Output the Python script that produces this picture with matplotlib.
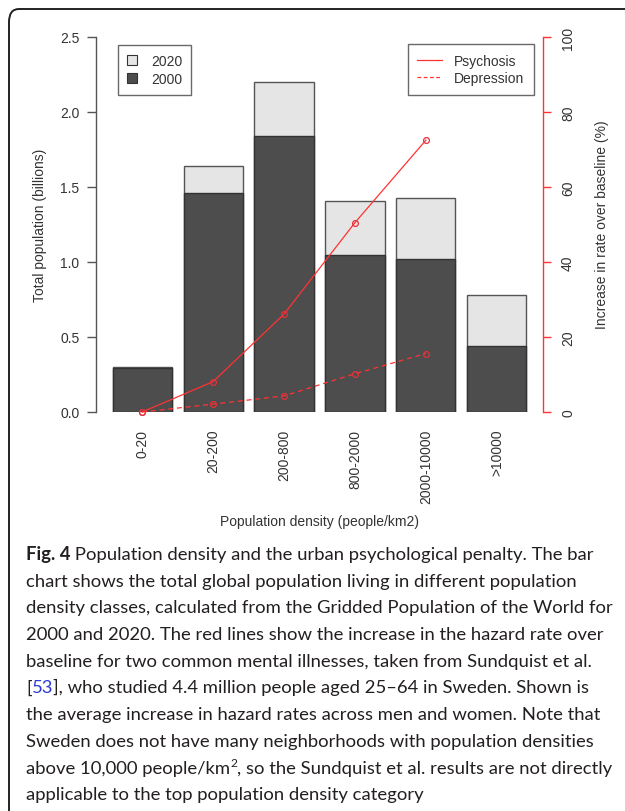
import matplotlib
matplotlib.use("Agg")
import matplotlib.pyplot as plt
from matplotlib.patches import FancyBboxPatch, Patch
from matplotlib.lines import Line2D
import numpy as np

categories = ["0-20", "20-200", "200-800", "800-2000", "2000-10000", ">10000"]
pop_2020 = [0.30, 1.64, 2.20, 1.41, 1.43, 0.78]
pop_2000 = [0.295, 1.46, 1.84, 1.05, 1.02, 0.44]
psychosis = [0.0, 8.1, 26.1, 50.5, 72.5]
depression = [0.0, 2.1, 4.3, 10.2, 15.6]
left_ticks = [0.0, 0.5, 1.0, 1.5, 2.0, 2.5]
right_ticks = [0, 20, 40, 60, 80, 100]

W, H = 625, 812
fig = plt.figure(figsize=(W / 100, H / 100), dpi=100)
fig.patch.set_facecolor("white")
renderer = fig.canvas.get_renderer()

def fx(px):
    return px / W

def fy(py):
    return 1 - py / H

# rounded frame
frame = FancyBboxPatch((fx(9), fy(900)), fx(700), fy(10) - fy(900),
                       boxstyle="round,pad=0,rounding_size=0.016",
                       transform=fig.transFigure, facecolor="none",
                       edgecolor="#222222", linewidth=1.4, clip_on=False)
fig.patches.append(frame)

chart_font = ["Liberation Sans", "DejaVu Sans"]
txt_col = "#333333"
fs = 10

ax = fig.add_axes([fx(96), fy(413), fx(543) - fx(96), fy(38) - fy(413)])
x = 0.7 + 1.2 * np.arange(len(categories))
ax.bar(x, pop_2020, width=1.0, color="#e5e5e5", edgecolor="#555555", linewidth=1.0, zorder=2)
ax.bar(x, pop_2000, width=1.0, color="#4d4d4d", edgecolor="#333333", linewidth=1.0, zorder=3)
ax.set_xlim(-0.08, 7.48)
ax.set_ylim(0, 2.5)
for s in ["top", "right", "bottom"]:
    ax.spines[s].set_visible(False)
ax.spines["left"].set_color("#555555")
ax.spines["left"].set_linewidth(1.0)
ax.set_yticks(left_ticks)
ax.set_yticklabels([f"{v:.1f}" for v in left_ticks], fontsize=fs, color=txt_col, family=chart_font)
ax.tick_params(axis="y", direction="out", length=6.5, width=1.0, color="#555555", pad=5.5)
ax.set_xticks(x)
ax.set_xticklabels(categories, rotation=90, fontsize=fs, color=txt_col, family=chart_font)
ax.tick_params(axis="x", length=0, pad=12)

ax2 = ax.twinx()
ax2.set_ylim(0, 100)
ax2.set_xlim(-0.08, 7.48)
for s in ["top", "left", "bottom"]:
    ax2.spines[s].set_visible(False)
ax2.spines["right"].set_color("#ff3333")
ax2.spines["right"].set_linewidth(1.0)
ax2.set_yticks(right_ticks)
ax2.set_yticklabels([str(v) for v in right_ticks], fontsize=fs, color=txt_col,
                    family=chart_font, rotation=90, va="center")
ax2.tick_params(axis="y", direction="out", length=6, width=1.0, color="#ff3333", pad=7)
ax2.plot(x[:len(psychosis)], psychosis, color="#ff3333", linewidth=0.9, linestyle="-",
         marker="o", markersize=4.2, markerfacecolor="none", markeredgecolor="#e8303a",
         markeredgewidth=0.9, clip_on=False, zorder=5)
ax2.plot(x[:len(depression)], depression, color="#ff3333", linewidth=0.9, linestyle=(0, (4, 3)),
         marker="o", markersize=4.2, markerfacecolor="none", markeredgecolor="#e8303a",
         markeredgewidth=0.9, clip_on=False, zorder=5)

fig.text(fx(40), fy(225), "Total population (billions)", rotation=90, ha="center", va="center",
         fontsize=fs, color=txt_col, family=chart_font)
fig.text(fx(602), fy(225), "Increase in rate over baseline (%)", rotation=90, ha="center",
         va="center", fontsize=fs, color=txt_col, family=chart_font)

# legends
h1 = [Patch(facecolor="#e5e5e5", edgecolor="#333333", linewidth=0.8),
      Patch(facecolor="#4d4d4d", edgecolor="#333333", linewidth=0.8)]
leg1 = ax2.legend(h1, ["2020", "2000"], loc="upper left",
                  bbox_to_anchor=(fx(118), fy(46)), bbox_transform=fig.transFigure,
                  prop={"family": chart_font, "size": fs}, frameon=True, fancybox=False,
                  edgecolor="#444444", handlelength=0.72, handleheight=0.72, handletextpad=1.0,
                  borderpad=0.65, labelspacing=0.25, borderaxespad=0)
leg1.get_frame().set_linewidth(1.0)
for t in leg1.get_texts():
    t.set_color(txt_col)
ax2.add_artist(leg1)
h2 = [Line2D([], [], color="#ff3333", linewidth=0.9),
      Line2D([], [], color="#ff3333", linewidth=0.9, linestyle=(0, (3, 2)))]
leg2 = ax2.legend(h2, ["Psychosis", "Depression"], loc="upper right",
                  bbox_to_anchor=(fx(534), fy(45)), bbox_transform=fig.transFigure,
                  prop={"family": chart_font, "size": fs}, frameon=True, fancybox=False,
                  edgecolor="#444444", handlelength=1.8, handletextpad=0.85,
                  borderpad=0.7, labelspacing=0.25, borderaxespad=0)
leg2.get_frame().set_linewidth(1.0)
for t in leg2.get_texts():
    t.set_color(txt_col)

fig.text(fx(319), fy(522), "Population density (people/km2)", ha="center", va="center",
         fontsize=fs, color=txt_col, family=chart_font)

# caption
cap_font = ["Lato", "DejaVu Sans"]
cap_col = "#231f20"
x0 = 26
y_base = 560
dy = 26.7

lines = [
    [("Fig. 4", {"weight": "bold"}), (" Population density and the urban psychological penalty. The bar", {})],
    [("chart shows the total global population living in different population", {})],
    [("density classes, calculated from the Gridded Population of the World for", {})],
    [("2000 and 2020. The red lines show the increase in the hazard rate over", {})],
    [("baseline for two common mental illnesses, taken from Sundquist et al.", {})],
    [("[", {}), ("53", {"color": "#2b3bd1"}), ("], who studied 4.4 million people aged 25\u201364 in Sweden. Shown is", {})],
    [("the average increase in hazard rates across men and women. Note that", {})],
    [("Sweden does not have many neighborhoods with population densities", {})],
    [("above 10,000 people/km", {}), ("2", {"scale": 0.65, "raise_px": 7}),
     (", so the Sundquist et al. results are not directly", {})],
    [("applicable to the top population density category", {})],
]
right_edges = [596, 571, 598, 597, 593, 589, 603, 603, 602, 427]

def put_pieces(row, pieces, size, draw=True):
    ypx = y_base + row * dy
    cur = x0
    made = []
    for text, kw in pieces:
        kw = dict(kw)
        raise_px = kw.pop("raise_px", 0)
        scale = kw.pop("scale", 1.0)
        t = fig.text(fx(cur), fy(ypx - raise_px), text, ha="left", va="baseline",
                     fontsize=size * scale, color=kw.pop("color", cap_col),
                     family=cap_font, **kw)
        cur += t.get_window_extent(renderer).width
        made.append(t)
    if not draw:
        for t in made:
            t.remove()
    return cur - x0

base_size = 12.0
measured = [put_pieces(i, pcs, base_size, draw=False) for i, pcs in enumerate(lines)]
target = [r - x0 for r in right_edges]
cap_fs = base_size * sum(target) / sum(measured)
for i, pcs in enumerate(lines):
    put_pieces(i, pcs, cap_fs)

fig.savefig("out.png", dpi=100, facecolor="white")
